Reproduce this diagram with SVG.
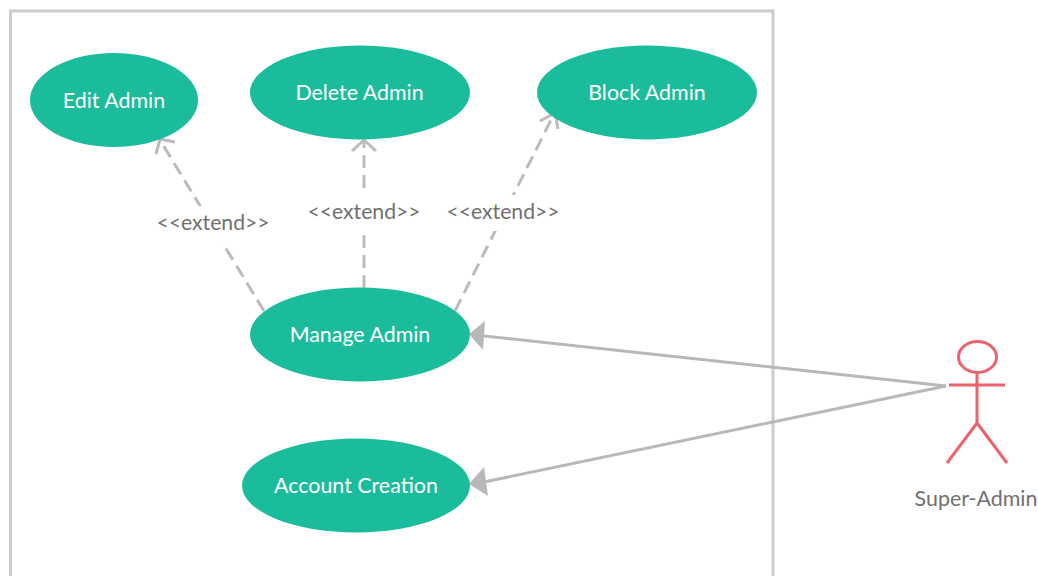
<svg xmlns="http://www.w3.org/2000/svg" width="1038" height="576" viewBox="0 0 1038 576">
<style>
.uc{fill:#1bbc9b}
.ut{fill:#fff;font:21.400px Lato,"Liberation Sans",sans-serif;text-anchor:middle}
.lb{fill:#707070;font:21.200px Lato,"Liberation Sans",sans-serif;text-anchor:middle}
.d{fill:none;stroke:#bbb;stroke-width:3;stroke-dasharray:13 7}
.o{fill:none;stroke:#bbb;stroke-width:3}
.s{fill:none;stroke:#b8b8b8;stroke-width:3}
.a{fill:#b8b8b8}
.ac{fill:none;stroke:#ec636d;stroke-width:3}
</style>
<rect width="1038" height="576" fill="#fff"/>
<path d="M10.500 576V11H773V576" fill="none" stroke="#ccc" stroke-width="3"/>
<g id="connectors">
<path class="d" d="M264 311L160 140"/><path class="o" d="M156 154L160 139L175 142"/>
<path class="d" d="M364 288V140"/><path class="o" d="M352 151L364 140L376 151"/>
<path class="d" d="M455 311L553 116"/><path class="o" d="M540 121L555 113L558 129"/>
<rect x="157" y="206" width="112" height="37" fill="#fff"/><text class="lb" x="213" y="229.500">&lt;&lt;extend&gt;&gt;</text>
<rect x="308" y="195" width="112" height="35" fill="#fff"/><text class="lb" x="364" y="218.500">&lt;&lt;extend&gt;&gt;</text>
<rect x="447" y="195" width="112" height="36" fill="#fff"/><text class="lb" x="503" y="218.500">&lt;&lt;extend&gt;&gt;</text>
<path class="s" d="M946 386L484 336"/><polygon class="a" points="469,334 485,321 483,350"/>
<path class="s" d="M946 386L484 482"/><polygon class="a" points="469,484 484,467 488,496"/>
</g>
<g id="edit-admin"><ellipse class="uc" cx="114" cy="100" rx="84" ry="47"/><text class="ut" x="114" y="107.500">Edit Admin</text></g>
<g id="delete-admin"><ellipse class="uc" cx="360" cy="92.500" rx="110" ry="47"/><text class="ut" x="359.500" y="99.500">Delete Admin</text></g>
<g id="block-admin"><ellipse class="uc" cx="647" cy="92.500" rx="110" ry="47"/><text class="ut" x="647" y="99.500">Block Admin</text></g>
<g id="manage-admin"><ellipse class="uc" cx="360" cy="334.500" rx="110" ry="47"/><text class="ut" x="360" y="341.500">Manage Admin</text></g>
<g id="account-creation"><ellipse class="uc" cx="356" cy="485.500" rx="114" ry="47"/><text class="ut" x="356" y="492.500">Account Creation</text></g>
<g id="super-admin">
<ellipse class="ac" cx="977.500" cy="357" rx="19" ry="15.500"/>
<path class="ac" d="M977 373V423M949 385H1005M977 423L947 463M977 423L1007 463"/>
<text class="lb" x="976" y="506" style="font-size:21.400px">Super-Admin</text>
</g>
</svg>
